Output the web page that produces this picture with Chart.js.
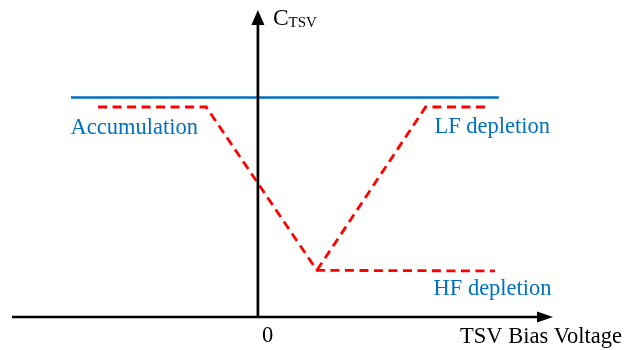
<!DOCTYPE html>
<html>
<head>
<meta charset="utf-8">
<style>
  html, body { margin: 0; padding: 0; background: #fff; }
  #wrap { width: 637px; height: 350px; }
</style>
<script src="https://cdn.jsdelivr.net/npm/chart.js@4.4.1/dist/chart.umd.min.js"></script>
</head>
<body>
<div id="wrap"><canvas id="cv" width="637" height="350"></canvas></div>
<script>
// Bias voltage (arbitrary units) and normalised TSV capacitance
const xRange = [-5, 6];
const yRange = [0, 1];

// Oxide capacitance (flat reference line)
const oxideX = [-3.8, 4.9];
const oxideC = [0.715, 0.715];

// High-frequency C-V curve: accumulation -> depletion -> saturated minimum
const hfX = [-3.25, -1.05, 1.2, 4.82];
const hfC = [0.684, 0.684, 0.152, 0.150];

// Low-frequency branch recovering to accumulation level
const lfX = [1.2, 3.41, 4.72];
const lfC = [0.152, 0.684, 0.684];

const tickZero = '0';
const xTitle = 'TSV Bias Voltage';
const yTitleMain = 'C';
const yTitleSub = 'TSV';
const regionLabels = [
  { text: 'Accumulation', x: -3.81, y: 0.595 },
  { text: 'LF depletion', x: 3.59, y: 0.598 },
  { text: 'HF depletion', x: 3.57, y: 0.072 }
];

const BLUE = '#0070C0';
const RED = '#FF0000';
const SERIF = '"Liberation Serif", "DejaVu Serif", serif';

const pts = (xs, ys) => xs.map((x, i) => ({ x, y: ys[i] }));

// Axes with arrowheads, crossing at the origin, plus annotations
const axesPlugin = {
  id: 'crossAxes',
  afterDatasetsDraw(chart) {
    const { ctx, scales: { x, y } } = chart;
    const x0 = x.getPixelForValue(0);
    const y0 = y.getPixelForValue(0);
    const xEnd = x.getPixelForValue(xRange[1]);
    const xStart = x.getPixelForValue(xRange[0]);
    const yTop = y.getPixelForValue(yRange[1]);
    ctx.save();
    ctx.strokeStyle = '#000';
    ctx.fillStyle = '#000';
    ctx.lineWidth = 2.7;
    ctx.lineCap = 'butt';
    ctx.beginPath();
    ctx.moveTo(xStart, y0);
    ctx.lineTo(xEnd - 6, y0);
    ctx.moveTo(x0, y0 + 1.3);
    ctx.lineTo(x0, yTop + 6);
    ctx.stroke();
    // arrowheads
    ctx.beginPath();
    ctx.moveTo(xEnd, y0);
    ctx.lineTo(xEnd - 16, y0 - 5.5);
    ctx.lineTo(xEnd - 16, y0 + 5.5);
    ctx.closePath();
    ctx.fill();
    ctx.beginPath();
    ctx.moveTo(x0, yTop);
    ctx.lineTo(x0 - 6.5, yTop + 15);
    ctx.lineTo(x0 + 6.5, yTop + 15);
    ctx.closePath();
    ctx.fill();

    // tick label and axis titles
    ctx.textBaseline = 'alphabetic';
    ctx.textAlign = 'left';
    ctx.font = '22.5px ' + SERIF;
    ctx.fillText(tickZero, x0 + 4, y0 + 25);
    ctx.fillText(xTitle, xEnd - 93, y0 + 26);
    ctx.font = '23.5px ' + SERIF;
    ctx.fillText(yTitleMain, x0 + 15, yTop + 15);
    const cw = ctx.measureText(yTitleMain).width;
    ctx.font = '15px ' + SERIF;
    ctx.fillText(yTitleSub, x0 + 15 + cw, yTop + 17);

    // region labels
    ctx.fillStyle = BLUE;
    ctx.font = '22.5px ' + SERIF;
    regionLabels.forEach(l => {
      ctx.fillText(l.text, x.getPixelForValue(l.x), y.getPixelForValue(l.y));
    });
    ctx.restore();
  }
};

new Chart(document.getElementById('cv'), {
  type: 'line',
  data: {
    datasets: [
      {
        label: 'Cox',
        data: pts(oxideX, oxideC),
        borderColor: BLUE,
        borderWidth: 2.6,
        pointRadius: 0,
        tension: 0
      },
      {
        label: 'HF',
        data: pts(hfX, hfC),
        borderColor: RED,
        borderWidth: 2.8,
        borderDash: [9, 5.5],
        pointRadius: 0,
        tension: 0
      },
      {
        label: 'LF',
        data: pts(lfX, lfC),
        borderColor: RED,
        borderWidth: 2.8,
        borderDash: [9, 5.5],
        pointRadius: 0,
        tension: 0
      }
    ]
  },
  options: {
    responsive: false,
    animation: false,
    layout: { padding: { left: 12, right: 84, top: 10, bottom: 33 } },
    plugins: { legend: { display: false }, tooltip: { enabled: false } },
    scales: {
      x: { type: 'linear', min: xRange[0], max: xRange[1], display: false },
      y: { type: 'linear', min: yRange[0], max: yRange[1], display: false }
    }
  },
  plugins: [axesPlugin]
});
</script>
</body>
</html>
